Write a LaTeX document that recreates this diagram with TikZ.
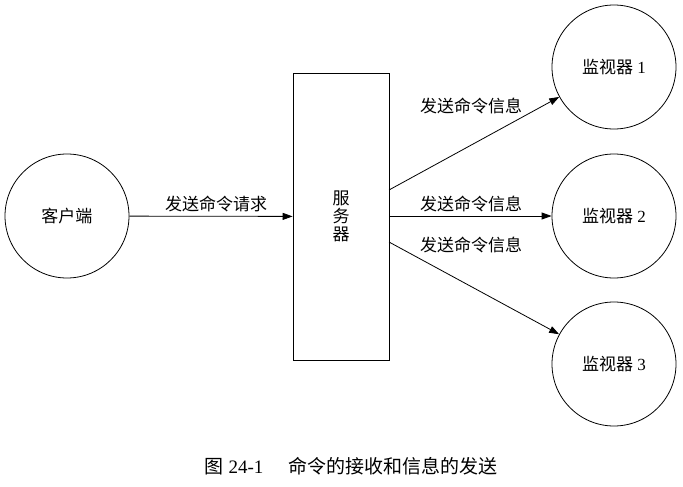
\documentclass[tikz,border=0pt]{standalone}
\usepackage{fontspec}
\setmainfont{Liberation Serif}
\newfontfamily\cjk{Noto Sans CJK SC}
\usetikzlibrary{arrows.meta}
\begin{document}
\begin{tikzpicture}[x=1pt,y=-1pt,
  every node/.style={font=\fontsize{17}{20}\selectfont},
  roundnode/.style={draw,circle,minimum size=124pt,inner sep=0pt,line width=0.8pt},
  serverbox/.style={draw,rectangle,minimum width=96pt,minimum height=287pt,line width=0.8pt},
  conn/.style={line width=0.8pt,-{Triangle[length=10pt,width=7pt]}},
  lbl/.style={inner sep=1pt}]
\useasboundingbox (0,0) rectangle (683,487);
\node[roundnode] (client) at (67,216) {\cjk 客户端};
\node[serverbox,align=center] (server) at (341,216.5) {\cjk 服\\[-2pt]\cjk 务\\[-2pt]\cjk 器};
\node[roundnode] (m1) at (614,67) {\cjk 监视器\rm\ 1};
\node[roundnode] (m2) at (614,216) {\cjk 监视器\rm\ 2};
\node[roundnode] (m3) at (614,364) {\cjk 监视器\rm\ 3};
\coordinate (s1) at (389,190);
\coordinate (s2) at (389,216);
\coordinate (s3) at (389,242);
\draw[conn] (client) -- (server);
\draw[conn] (s1) -- (m1);
\draw[conn] (s2) -- (m2);
\draw[conn] (s3) -- (m3);
\node[lbl] (l0) at (216,204) {\cjk 发送命令请求};
\node[lbl] (l1) at (471,106) {\cjk 发送命令信息};
\node[lbl] (l2) at (471,204) {\cjk 发送命令信息};
\node[lbl] (l3) at (471,245) {\cjk 发送命令信息};
\node[font=\fontsize{19}{22}\selectfont] (cap) at (351,466) {{\cjk 图}\ 24-1\hspace{1.3em}{\cjk 命令的接收和信息的发送}};
\end{tikzpicture}
\end{document}
